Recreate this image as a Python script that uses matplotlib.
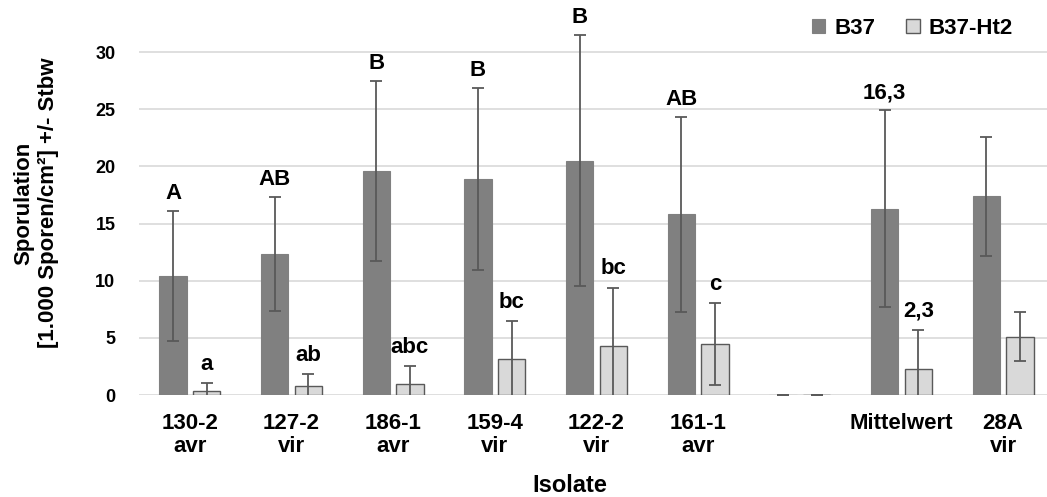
import numpy as np
import matplotlib
matplotlib.use('Agg')
import matplotlib.pyplot as plt

plt.rcParams['font.family'] = ['Liberation Sans', 'DejaVu Sans']
plt.rcParams['font.weight'] = 'bold'

# data
categories = ['130-2\navr', '127-2\nvir', '186-1\navr', '159-4\nvir', '122-2\nvir',
              '161-1\navr', '', 'Mittelwert', '28A\nvir']
b37 = [10.4, 12.35, 19.6, 18.9, 20.5, 15.8, 0, 16.3, 17.4]
b37_sd = [5.7, 5.0, 7.9, 8.0, 11.0, 8.5, 0, 8.6, 5.2]
ht2 = [0.35, 0.75, 0.95, 3.15, 4.3, 4.45, 0, 2.3, 5.1]
ht2_sd = [0.7, 1.1, 1.6, 3.3, 5.1, 3.6, 0, 3.4, 2.15]
b37_letters = ['A', 'AB', 'B', 'B', 'B', 'AB', '', '16,3', '']
ht2_letters = ['a', 'ab', 'abc', 'bc', 'bc', 'c', '', '2,3', '']

W, H = 1047, 497
fig = plt.figure(figsize=(W/100, H/100), dpi=100)
ax = fig.add_axes([139/W, 1-395/H, 915/W, 34*11.43/H])

x = np.arange(len(categories))
bw = 0.27
off = 0.165
err_kw = dict(ecolor='#595959', elinewidth=1.3, capsize=4.5, capthick=1.3)
ax.bar(x - off, b37, bw, color='#808080', edgecolor='#808080', linewidth=0.8,
       yerr=b37_sd, error_kw=err_kw, label='B37', zorder=3)
ax.bar(x + off, ht2, bw, color='#D9D9D9', edgecolor='#595959', linewidth=1.0,
       yerr=ht2_sd, error_kw=err_kw, label='B37-Ht2', zorder=3)

for i in range(len(categories)):
    if b37_letters[i]:
        ax.annotate(b37_letters[i], (x[i] - off, b37[i] + b37_sd[i]), xytext=(0, 5),
                    textcoords='offset points', ha='center', va='bottom', fontsize=16)
    if ht2_letters[i]:
        ax.annotate(ht2_letters[i], (x[i] + off, ht2[i] + ht2_sd[i]), xytext=(0, 6),
                    textcoords='offset points', ha='center', va='bottom', fontsize=16)

ax.set_xlim(-0.5, len(categories) - 0.5)
ax.set_ylim(0, 34)
ax.set_yticks(range(0, 31, 5))
ax.set_xticks(x)
ax.set_xticklabels(categories, fontsize=16, linespacing=1.15)
ax.tick_params(axis='y', length=0, pad=17, labelsize=13)
ax.tick_params(axis='x', length=0, pad=13)
ax.yaxis.grid(True, color='#D9D9D9', linewidth=1.2, zorder=0)
ax.set_axisbelow(True)
for s in ax.spines.values():
    s.set_visible(False)

fig.text(36/W, 1-203/H, 'Sporulation\n[1.000 Sporen/cm²] +/- Stbw', rotation=90,
         ha='center', va='center', multialignment='center', fontsize=16, linespacing=1.2)
fig.text(570/W, 1-486/H, 'Isolate', ha='center', va='center', fontsize=17)

fig.legend(loc='center right', bbox_to_anchor=(1024/W, 1-28/H), ncol=2, frameon=False,
           fontsize=16, handlelength=0.6, handleheight=0.6, handletextpad=0.4,
           columnspacing=1.4, borderpad=0)

fig.savefig('out.png', dpi=100)
